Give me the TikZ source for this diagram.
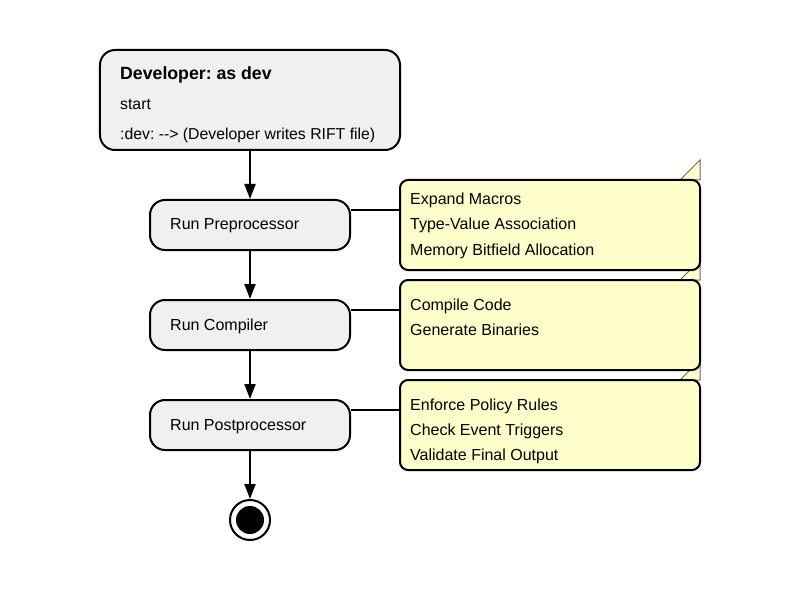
\documentclass[tikz,border=0pt]{standalone}
\usepackage{fontspec}
\setmainfont{Liberation Sans}
\usetikzlibrary{arrows.meta}
\definecolor{boxgray}{HTML}{F0F0F0}
\definecolor{noteyellow}{HTML}{FFFFCC}
\definecolor{foldline}{HTML}{666666}
\frenchspacing
\begin{document}
\begin{tikzpicture}[x=1bp,y=-1bp,
  actbox/.style={draw=black,line width=2bp,fill=boxgray,rounded corners=15bp,rectangle,inner sep=0pt,minimum width=200bp,minimum height=50bp},
  notebox/.style={draw=black,line width=2bp,fill=noteyellow,rounded corners=8bp,rectangle,inner sep=0pt,minimum width=300bp,minimum height=90bp},
  txt/.style={anchor=base west,inner sep=0pt,font=\fontsize{16bp}{18bp}\selectfont},
  devtxt/.style={anchor=base west,inner sep=0pt,font=\fontsize{15.8bp}{18bp}\selectfont},
  ttl/.style={anchor=base west,inner sep=0pt,font=\fontsize{17.7bp}{18bp}\selectfont\bfseries},
  flow/.style={line width=2bp,-{Triangle[width=11bp,length=15bp]}},
  link/.style={line width=2bp},
  fold/.style={fill=noteyellow,draw=foldline,line width=1bp}
]
\useasboundingbox (0,0) rectangle (800,600);
% start box
\node[actbox,minimum width=300bp,minimum height=100bp] (dev) at (250,100) {};
\node[ttl] (devt) at (120,80) {Developer: as dev};
\node[devtxt] (devs) at (120,110) {start};
\node[devtxt] (devw) at (120,140) {:dev: {-}{-}> (Developer writes RIFT file)};
% action boxes
\node[actbox] (pre) at (250,225) {};
\node[txt] (pret) at (170,230) {Run Preprocessor};
\node[actbox] (comp) at (250,325) {};
\node[txt] (compt) at (170,330) {Run Compiler};
\node[actbox] (post) at (250,425) {};
\node[txt] (postt) at (170,430) {Run Postprocessor};
% end
\node[circle,draw=black,line width=2bp,fill=white,minimum size=40bp,inner sep=0pt] (endo) at (250,520) {};
\node[circle,fill=black,minimum size=28bp,inner sep=0pt] (endi) at (250,520) {};
% notes: fold triangles first
\path[fold] (680,180) -- (700,160) -- (700,180) -- cycle;
\path[fold] (680,280) -- (700,260) -- (700,280) -- cycle;
\path[fold] (680,380) -- (700,360) -- (700,380) -- cycle;
\node[notebox] (n1) at (550,225) {};
\node[notebox] (n2) at (550,325) {};
\node[notebox] (n3) at (550,425) {};
\node[txt] (n1a) at (410,205) {Expand Macros};
\node[txt] (n1b) at (410,230) {Type-Value Association};
\node[txt] (n1c) at (410,255) {Memory Bitfield Allocation};
\node[txt] (n2a) at (410,310) {Compile Code};
\node[txt] (n2b) at (410,335) {Generate Binaries};
\node[txt] (n3a) at (410,410) {Enforce Policy Rules};
\node[txt] (n3b) at (410,435) {Check Event Triggers};
\node[txt] (n3c) at (410,460) {Validate Final Output};
% connectors
\draw[flow] (dev.south) -- (pre.north);
\draw[flow] (pre.south) -- (comp.north);
\draw[flow] (comp.south) -- (post.north);
\draw[flow] (post.south) -- (endo.north);
\draw[link] (pre.east |- 0,210) -- (n1.west |- 0,210);
\draw[link] (comp.east |- 0,310) -- (n2.west |- 0,310);
\draw[link] (post.east |- 0,410) -- (n3.west |- 0,410);
\end{tikzpicture}
\end{document}
